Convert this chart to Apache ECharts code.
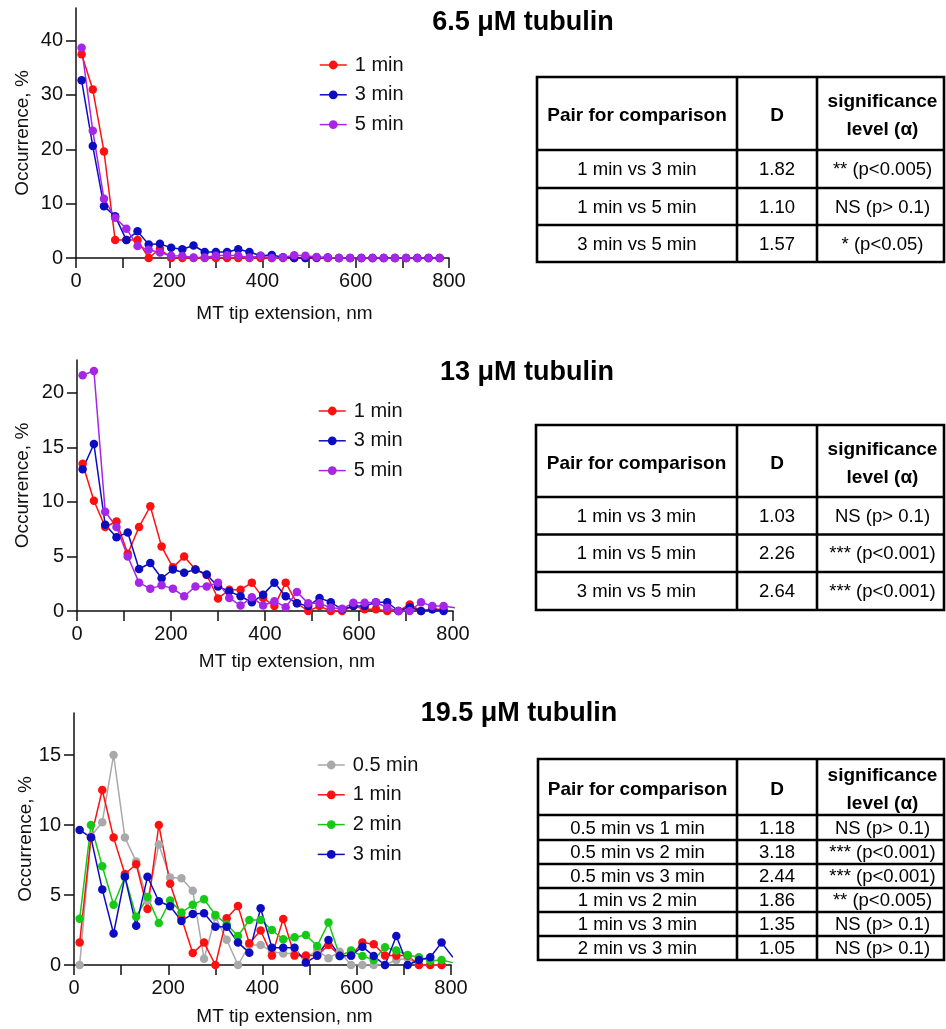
<!DOCTYPE html>
<html>
<head>
<meta charset="utf-8">
<script src="https://cdn.jsdelivr.net/npm/echarts@6/dist/echarts.min.js"></script>
<style>
html,body{margin:0;padding:0;background:#fff;}
#main{width:946px;height:1029px;}
</style>
</head>
<body>
<div id="main"></div>
<script>
// ---------- DATA ----------
const bins = [12,36,60,84,108,132,156,180,204,228,252,276,300,324,348,372,396,420,444,468,492,516,540,564,588,612,636,660,684,708,732,756,780,804];
const xTickValues = [0,100,200,300,400,500,600,700,800];
const xLabelValues = [0,200,400,600,800];

const titles = ['6.5 μM tubulin', '13 μM tubulin', '19.5 μM tubulin'];
const xAxisTitle = 'MT tip extension, nm';
const yAxisTitle = 'Occurrence, %';

// Chart 1: 6.5 uM
const c1Names = ['1 min', '3 min', '5 min'];
const c1_1min = [37.5,31.0,19.6,3.3,3.3,3.3,0,1.7,0,0,0,0,0,0,0,0,0,0,0,0,0,0,0,0,0,0,0,0,0,0,0,0,0];
const c1_3min = [32.7,20.6,9.5,7.7,3.3,4.9,2.5,2.6,1.9,1.6,2.3,1.1,1.1,1.1,1.6,1.1,0.4,0.55,0.15,0,0,0.1,0.1,0,0,0,0,0,0,0,0,0,0];
const c1_5min = [38.7,23.4,10.9,7.4,5.4,2.2,1.5,1.0,0.4,0.35,0.1,0.1,0.4,0.5,0.4,0.1,0.35,0,0.1,0.5,0.4,0.2,0.1,0,0,0,0,0,0,0,0,0,0];
const c1YTicks = [0,10,20,30,40];

// Chart 2: 13 uM
const c2Names = ['1 min', '3 min', '5 min'];
const c2_1min = [13.5,10.1,7.7,8.2,5.25,7.7,9.6,5.9,4.0,5.0,3.8,3.3,1.15,1.95,1.95,2.6,1.2,0.45,2.6,0.7,0,0.45,0,0,0.45,0.15,0.15,0,0,0.6,0,0.15,0.15];
const c2_3min = [13.0,15.3,7.9,6.75,7.2,3.85,4.4,3.0,3.8,3.5,3.8,3.35,2.25,1.8,1.35,0.8,1.5,2.6,1.35,0.7,0.45,1.2,0.8,0.15,0.45,0.45,0.8,0.8,0,0.35,0,0.15,0];
const c2_5min = [21.6,22.0,9.1,7.7,5.0,2.6,2.05,2.35,2.05,1.35,2.25,2.25,2.6,1.2,0.5,1.25,0.5,0.9,0.35,1.75,0.7,0.7,0.3,0.2,0.75,0.75,0.8,0.3,0,0,0.8,0.45,0.45,0.3];
const c2YTicks = [0,5,10,15,20];

// Chart 3: 19.5 uM
const c3Names = ['0.5 min', '1 min', '2 min', '3 min'];
const c3_05min = [0,9.2,10.2,15.0,9.1,7.4,4.6,8.6,6.25,6.2,5.3,0.45,3.45,1.8,0,1.43,1.43,0.95,0.83,0.83,0.48,1.07,0.48,0.95,0,0,0,0,0.36,0.48,0,0,0];
const c3_1min = [1.6,9.1,12.5,9.1,6.5,7.2,4.0,10.0,5.8,3.35,0.85,1.6,0,3.34,4.22,1.55,2.46,0.67,3.29,0.67,0.67,0.67,1.43,0.67,0.67,1.6,1.48,0.67,0.67,0.67,0,0,0];
const c3_2min = [3.3,10.0,7.05,4.3,6.3,3.45,4.85,3.0,4.6,3.75,4.3,4.7,3.58,2.9,2.07,3.22,3.22,2.5,1.84,1.98,2.14,1.36,3.03,0.64,1.03,0.64,0.36,1.26,1.03,0.71,0.55,0.31,0.36,0.17];
const c3_3min = [9.65,9.1,5.4,2.25,6.3,2.8,6.3,4.55,4.2,3.15,3.65,3.7,2.74,2.74,1.6,0.88,4.05,1.24,1.24,1.24,0.17,0.67,1.79,0.64,0.67,1.31,0.64,0,2.07,0,0.36,0.55,1.6,0.55];
const c3YTicks = [0,5,10,15];

// Tables
const tableHeader = ['Pair for comparison', 'D', 'significance\nlevel (α)'];
const t1Pairs = ['1 min vs 3 min', '1 min vs 5 min', '3 min vs 5 min'];
const t1D = ['1.82', '1.10', '1.57'];
const t1Sig = ['** (p<0.005)', 'NS (p> 0.1)', '* (p<0.05)'];
const t2Pairs = ['1 min vs 3 min', '1 min vs 5 min', '3 min vs 5 min'];
const t2D = ['1.03', '2.26', '2.64'];
const t2Sig = ['NS (p> 0.1)', '*** (p<0.001)', '*** (p<0.001)'];
const t3Pairs = ['0.5 min vs 1 min', '0.5 min vs 2 min', '0.5 min vs 3 min', '1 min vs 2 min', '1 min vs 3 min', '2 min vs 3 min'];
const t3D = ['1.18', '3.18', '2.44', '1.86', '1.35', '1.05'];
const t3Sig = ['NS (p> 0.1)', '*** (p<0.001)', '*** (p<0.001)', '** (p<0.005)', 'NS (p> 0.1)', 'NS (p> 0.1)'];

// ---------- STYLE ----------
const FONT = 'Liberation Sans, Arial, Helvetica, sans-serif';
const colors = {
  '0.5 min': '#a9a9ab',
  '1 min': '#ff1010',
  '2 min': '#16c916',
  '3 min': '#0c0cc0',
  '5 min': '#a526e6'
};

const grids = [
  {left: 76, right: 497, top: 8, bottom: 771},
  {left: 77, right: 493, top: 360, bottom: 418},
  {left: 74, right: 495, top: 713, bottom: 64}
];
const yMax = [46, 23, 18];
const yTicks = [c1YTicks, c2YTicks, c3YTicks];
const xNameGap = [46, 41, 42];
const yNameGap = [44, 45, 38];

function xAxisFor(i) {
  return {
    gridIndex: i, type: 'value', min: 0, max: 800,
    name: xAxisTitle, nameLocation: 'middle', nameGap: xNameGap[i],
    nameTextStyle: {fontFamily: FONT, fontSize: 19, color: '#111', padding: [0, 0, 0, 44]},
    axisLine: {onZero: false, lineStyle: {color: '#111', width: 1.5}},
    axisTick: {show: true, inside: false, length: 10, lineStyle: {color: '#111', width: 1.5}, customValues: xTickValues},
    axisLabel: {fontFamily: FONT, fontSize: 20, color: '#111', margin: 13, customValues: xLabelValues},
    splitLine: {show: false}
  };
}
function yAxisFor(i) {
  return {
    gridIndex: i, type: 'value', min: 0, max: yMax[i],
    name: yAxisTitle, nameLocation: 'middle', nameGap: yNameGap[i], nameRotate: 90,
    nameTextStyle: {fontFamily: FONT, fontSize: 19, color: '#111'},
    axisLine: {show: true, lineStyle: {color: '#111', width: 1.5}},
    axisTick: {show: true, inside: false, length: 10, lineStyle: {color: '#111', width: 1.5}, customValues: yTicks[i]},
    axisLabel: {fontFamily: FONT, fontSize: 20, color: '#111', margin: 13, customValues: yTicks[i]},
    splitLine: {show: false}
  };
}
function lineSeries(name, vals, gi) {
  return {
    type: 'line', name: name, xAxisIndex: gi, yAxisIndex: gi,
    data: vals.map((v, k) => [bins[k], v]),
    symbol: 'circle', symbolSize: 8.5, showSymbol: true, clip: true,
    color: colors[name],
    itemStyle: {color: colors[name]},
    lineStyle: {color: colors[name], width: 1.5},
    animation: false
  };
}

const series = [
  lineSeries('1 min', c1_1min, 0),
  lineSeries('3 min', c1_3min, 0),
  lineSeries('5 min', c1_5min, 0),
  lineSeries('1 min', c2_1min, 1),
  lineSeries('3 min', c2_3min, 1),
  lineSeries('5 min', c2_5min, 1),
  lineSeries('0.5 min', c3_05min, 2),
  lineSeries('1 min', c3_1min, 2),
  lineSeries('2 min', c3_2min, 2),
  lineSeries('3 min', c3_3min, 2)
];

function legendFor(names, left, top) {
  return {
    orient: 'vertical', left: left, top: top, padding: 0,
    itemWidth: 27, itemHeight: 11, itemGap: 9.8,
    selectedMode: false,
    data: names.map(n => ({name: n, itemStyle: {color: colors[n]}, lineStyle: {color: colors[n], width: 1.5}})),
    textStyle: {fontFamily: FONT, fontSize: 20, color: '#111', padding: [0, 0, 0, 3]}
  };
}

// ---------- GRAPHIC: titles + tables ----------
const graphics = [];
const titlePos = [[523, 23], [527, 373], [519, 714]];
titles.forEach((t, i) => {
  graphics.push({type: 'text', x: titlePos[i][0], y: titlePos[i][1], silent: true,
    style: {text: t, font: 'bold 27px ' + FONT, fill: '#000', align: 'center', verticalAlign: 'middle'}});
});

function addTable(pairs, dvals, sigs, cols, rows) {
  const LW = 2.6;
  graphics.push({type: 'rect', silent: true,
    shape: {x: cols[0], y: rows[0], width: cols[cols.length - 1] - cols[0], height: rows[rows.length - 1] - rows[0]},
    style: {fill: 'none', stroke: '#000', lineWidth: LW}});
  for (let c = 1; c < cols.length - 1; c++) {
    graphics.push({type: 'line', silent: true, shape: {x1: cols[c], y1: rows[0], x2: cols[c], y2: rows[rows.length - 1]},
      style: {stroke: '#000', lineWidth: LW}});
  }
  for (let r = 1; r < rows.length - 1; r++) {
    graphics.push({type: 'line', silent: true, shape: {x1: cols[0], y1: rows[r], x2: cols[cols.length - 1], y2: rows[r]},
      style: {stroke: '#000', lineWidth: LW}});
  }
  const hy = (rows[0] + rows[1]) / 2 + 2.5;
  tableHeader.forEach((h, c) => {
    graphics.push({type: 'text', silent: true, x: (cols[c] + cols[c + 1]) / 2 + (c === 2 ? 2 : 0), y: hy,
      style: {text: h, font: 'bold 19px ' + FONT, fill: '#000', align: 'center', verticalAlign: 'middle', lineHeight: 28}});
  });
  pairs.forEach((p, r) => {
    const cy = (rows[r + 1] + rows[r + 2]) / 2 + 1;
    [p, dvals[r], sigs[r]].forEach((txt, c) => {
      graphics.push({type: 'text', silent: true, x: (cols[c] + cols[c + 1]) / 2 + (c === 2 ? 2 : 0), y: cy,
        style: {text: txt, font: '18.5px ' + FONT, fill: '#000', align: 'center', verticalAlign: 'middle'}});
    });
  });
}
addTable(t1Pairs, t1D, t1Sig, [537, 737, 817, 944], [77, 150, 188, 225, 262]);
addTable(t2Pairs, t2D, t2Sig, [536, 737, 817, 944], [425, 497, 534.5, 572, 610]);
addTable(t3Pairs, t3D, t3Sig, [538, 737, 817, 944], [759, 815, 840, 864, 888, 912, 936, 960]);

const option = {
  backgroundColor: '#ffffff',
  animation: false,
  grid: grids,
  xAxis: [xAxisFor(0), xAxisFor(1), xAxisFor(2)],
  yAxis: [yAxisFor(0), yAxisFor(1), yAxisFor(2)],
  legend: [
    legendFor(c1Names, 319, 55),
    legendFor(c2Names, 318, 401),
    legendFor(c3Names, 317, 755)
  ],
  series: series,
  graphic: graphics
};

const chart = echarts.init(document.getElementById('main'), null, {renderer: 'canvas', width: 946, height: 1029});
chart.setOption(option);
</script>
</body>
</html>
